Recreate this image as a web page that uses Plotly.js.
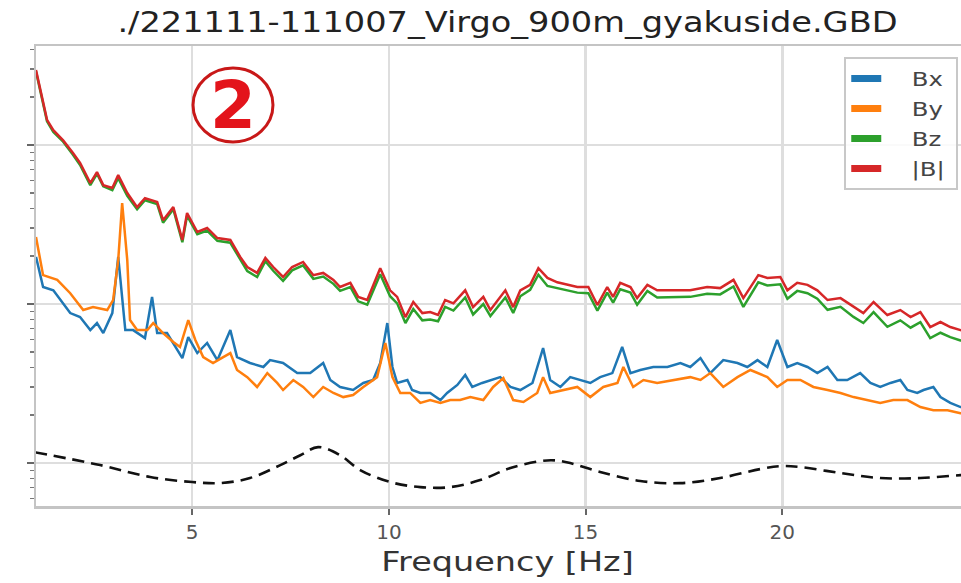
<!DOCTYPE html>
<html><head><meta charset="utf-8">
<script src="https://cdn.plot.ly/plotly-3.0.1.min.js"></script>
<style>
html,body{margin:0;padding:0;overflow:hidden;background:#fff;width:961px;height:583px}
#chart{width:1000px;height:583px}
.gtitle,.xtitle,.legendtext{transform-box:fill-box;transform-origin:50% 50%}
.gtitle{transform:scaleX(1.2)}
.xtitle{transform:scaleX(1.24)}
.legendtext{transform:scaleX(1.22)}
</style></head><body><div id="chart"></div><script>
// Frequencies [Hz] shared by Bz and |B|
const freqB = [1.03,1.19,1.31,1.47,1.72,1.97,2.15,2.41,2.58,2.74,2.97,3.12,3.35,3.60,3.80,4.11,4.26,4.52,4.75,4.87,5.13,5.38,5.64,5.97,6.22,6.40,6.65,6.86,7.06,7.31,7.54,7.82,8.08,8.33,8.59,8.76,9.02,9.22,9.45,9.78,10.03,10.21,10.42,10.62,10.85,11.05,11.25,11.43,11.64,11.94,12.14,12.40,12.58,12.96,13.16,13.34,13.59,13.80,14.03,14.28,14.53,14.79,15.07,15.30,15.55,15.70,15.88,16.14,16.31,16.57,16.82,17.23,17.66,18.09,18.42,18.76,19.01,19.39,19.62,19.95,20.13,20.38,20.64,20.89,21.15,21.48,21.81,22.06,22.32,22.67,23.00,23.26,23.51,23.76,24.02,24.27,24.53,25.0];
const absB = [296,192,144,124,107,89.1,77.1,57.7,67.6,56.0,53.7,64.7,49.9,40.7,46.4,43.8,33.7,40.7,25.3,37.4,28.4,30.1,26.0,25.3,19.8,17.1,15.7,19.5,17.1,14.8,17.1,18.4,15.2,15.7,14.2,12.8,13.6,11.1,10.6,16.8,12.2,11.1,8.28,10.3,8.78,8.91,8.53,10.6,10.1,12.2,9.57,11.1,9.17,12.2,9.57,12.2,13.2,16.8,14.6,13.7,13.2,12.8,12.8,9.86,12.8,11.1,13.6,12.8,10.9,13.2,12.2,12.2,12.2,12.8,12.6,14.2,10.9,15.2,14.6,14.8,12.2,13.6,13.2,12.2,10.6,10.9,9.57,8.78,10.3,8.53,9.17,8.28,8.91,7.17,7.71,7.17,6.86,6.4];
const bz = [290,188,141,121,105,87,75,56,66,55,52,62,48,39.5,45,42.5,32.5,39.5,24.5,36,27.5,29,25,24.3,18.9,16.1,14.8,18.6,16.2,14.0,16.3,17.5,14.4,14.9,13.4,12.1,12.8,10.4,9.9,15.4,11.2,10.1,7.6,9.3,7.9,8.0,7.8,9.6,9.1,11.0,8.6,10.0,8.4,11.0,8.8,11.2,12.3,15.3,13.0,12.6,12.1,11.8,11.7,9.1,11.8,10.2,12.4,11.8,9.9,12.1,11.0,11.0,11.1,11.6,11.5,12.9,9.6,13.7,13.1,13.3,10.8,12.1,11.7,10.8,9.2,9.6,8.3,7.6,8.9,7.2,7.9,7.1,7.7,6.1,6.6,6.2,5.9,5.6];

const freqBy = [1.03,1.21,1.57,1.90,2.23,2.48,2.84,2.99,3.12,3.22,3.35,3.42,3.60,3.86,4.01,4.26,4.52,4.69,4.90,5.08,5.28,5.53,5.79,5.97,6.14,6.40,6.65,6.91,7.16,7.31,7.57,7.82,8.08,8.33,8.59,8.84,9.09,9.35,9.70,9.91,10.09,10.29,10.54,10.80,11.05,11.31,11.56,11.81,12.07,12.40,12.65,12.91,13.16,13.42,13.77,13.92,14.10,14.43,14.79,15.12,15.45,15.81,15.96,16.21,16.47,16.82,17.23,17.66,17.92,18.17,18.50,18.86,19.19,19.62,19.87,20.13,20.46,20.79,21.15,21.48,21.81,22.16,22.49,22.82,23.18,23.51,23.84,24.20,24.53,25.0];
const by = [26.4,15.2,14.2,11.7,9.17,9.57,9.17,10.6,18.9,43.2,18.9,7.93,6.86,6.86,7.60,6.57,5.77,5.37,7.93,5.94,4.64,4.26,4.64,4.92,3.85,3.47,3.01,3.68,3.19,2.88,3.33,3.01,2.60,3.01,2.76,2.60,2.68,3.01,3.47,5.69,3.47,2.76,2.76,2.39,2.49,2.39,2.49,2.49,2.60,2.49,3.01,3.42,2.49,2.42,2.76,3.47,2.76,2.88,3.01,2.60,3.01,3.19,4.02,3.01,3.33,3.19,3.33,3.47,3.33,3.68,3.01,3.47,3.85,3.47,3.01,3.33,3.33,3.01,2.88,2.76,2.60,2.49,2.39,2.49,2.49,2.25,2.15,2.15,2.06,2.00];

const freqBx = [1.03,1.21,1.47,1.72,1.90,2.15,2.41,2.58,2.74,2.97,3.12,3.30,3.50,3.80,3.98,4.11,4.36,4.75,4.90,5.13,5.38,5.64,5.97,6.14,6.47,6.81,6.98,7.31,7.67,8.00,8.33,8.51,8.76,9.09,9.35,9.60,9.78,9.96,10.09,10.21,10.47,10.59,10.80,11.05,11.31,11.48,11.74,11.94,12.12,12.37,12.58,12.83,13.09,13.34,13.65,13.92,14.10,14.36,14.61,14.87,15.12,15.37,15.68,15.93,16.14,16.39,16.72,17.08,17.41,17.66,17.92,18.17,18.50,18.86,19.11,19.37,19.62,19.87,20.13,20.38,20.64,20.89,21.15,21.40,21.65,21.98,22.24,22.49,22.75,23.00,23.18,23.43,23.59,23.84,24.02,24.27,24.53,25.0];
const bx = [19.8,12.8,12.2,10.1,8.78,8.28,6.86,7.60,6.57,8.78,19.8,6.86,6.86,6.11,11.1,6.57,6.57,4.57,6.20,4.92,5.69,4.44,6.86,4.64,4.26,4.02,4.44,4.26,3.68,3.68,4.26,3.33,3.01,2.88,3.19,3.33,4.26,7.60,4.02,3.19,3.33,2.88,2.76,2.76,2.49,2.76,3.10,3.58,3.01,3.19,3.33,3.47,3.01,2.88,3.19,5.29,3.33,3.01,3.47,3.33,3.19,3.47,3.68,5.37,3.68,3.85,4.02,4.02,4.26,4.02,4.57,3.68,4.44,4.26,4.02,4.44,4.02,5.94,4.02,4.26,4.02,3.68,4.02,3.33,3.33,3.68,3.19,3.01,3.19,3.33,2.88,2.76,2.88,3.01,2.60,2.39,2.25,2.32];

// Reference (dashed) curve
const freqReq = [1.0,2.66,3.93,5.0,5.71,6.47,7.24,7.75,8.20,8.76,9.27,10.03,10.80,11.56,12.32,13.09,13.85,14.23,14.61,15.37,16.39,17.41,18.42,19.44,19.95,20.46,21.48,22.49,23.51,24.53,25.0];
const req = [1.17,0.971,0.817,0.760,0.748,0.805,0.971,1.12,1.26,1.12,0.904,0.760,0.706,0.706,0.782,0.930,1.03,1.04,1.0,0.878,0.771,0.748,0.805,0.917,0.957,0.944,0.865,0.805,0.805,0.840,0.853];

const names = ['Bx','By','Bz','|B|'];
const colors = ['#1f77b4','#ff7f0e','#2ca02c','#d62728'];
const titleText = './221111-111007_Virgo_900m_gyakuside.GBD';
const xTitle = 'Frequency [Hz]';
const xTicks = [0,5,10,15,20,25];

const series = [[freqBx,bx],[freqBy,by],[freqB,bz],[freqB,absB]];
const traces = series.map((s,i)=>({x:s[0], y:s[1], mode:'lines', showlegend:false, hoverinfo:'skip',
  line:{color:colors[i], width:2.5}}));
traces.push({x:freqReq, y:req, mode:'lines', showlegend:false, hoverinfo:'skip',
  line:{color:'#111', width:2.6, dash:'12px,7px', shape:'spline'}});
const pad = '\u00a0\u00a0\u00a0\u00a0';
names.forEach((n,i)=>traces.push({x:[null], y:[null], mode:'lines', name:pad+n, legendgroup:'g'+i,
  line:{color:colors[i], width:7}}));

const F = 'DejaVu Sans, Arial, sans-serif';
const layout = {
  width:1000, height:583,
  margin:{l:36, r:21, t:46, b:77},
  paper_bgcolor:'#fff', plot_bgcolor:'#fff',
  font:{family:F, color:'#444'},
  title:{text:titleText, x:0.5, xref:'paper', xanchor:'center', y:0.962, yref:'container', yanchor:'middle',
    font:{family:F, size:28, color:'#222'}},
  xaxis:{range:[1.03,25], tickvals:xTicks, ticks:'outside', ticklen:6, tickwidth:2, tickcolor:'#666',
    tickfont:{size:20, color:'#555'}, ticklabelstandoff:0,
    showgrid:true, gridcolor:'#dedede', gridwidth:2.5, zeroline:false,
    showline:true, mirror:true, linecolor:'#c4c4c4', linewidth:2.5,
    title:{text:xTitle, standoff:10, font:{family:F, size:27, color:'#333'}}},
  yaxis:{type:'log', range:[-0.27,2.623], dtick:1, ticks:'outside', ticklen:7, tickwidth:2, tickcolor:'#666',
    showticklabels:false, showgrid:true, gridcolor:'#dedede', gridwidth:2.5, zeroline:false,
    showline:true, mirror:true, linecolor:'#c4c4c4', linewidth:2.5,
    minor:{ticks:'outside', ticklen:4, tickwidth:1.5, tickcolor:'#777', dtick:'D1', showgrid:false}},
  legend:{x:0.978, xanchor:'right', y:0.976, yanchor:'top', bgcolor:'rgba(255,255,255,0.85)',
    bordercolor:'#c8c8c8', borderwidth:2, font:{family:F, size:20, color:'#444'},
    traceorder:'grouped', tracegroupgap:1, itemwidth:30},
  shapes:[{type:'circle', xref:'paper', yref:'paper', x0:0.1665, x1:0.2513, y0:0.7913, y1:0.9522,
    line:{color:'#c81818', width:3}, fillcolor:'rgba(255,255,255,0)'}],
  annotations:[{text:'<b>2</b>', xref:'paper', yref:'paper', x:0.2089, y:0.8696, xanchor:'center', yanchor:'middle',
    showarrow:false, font:{family:F, size:66, color:'#e3141b'}}]
};
Plotly.newPlot('chart', traces, layout, {staticPlot:true, displayModeBar:false});
</script></body></html>
